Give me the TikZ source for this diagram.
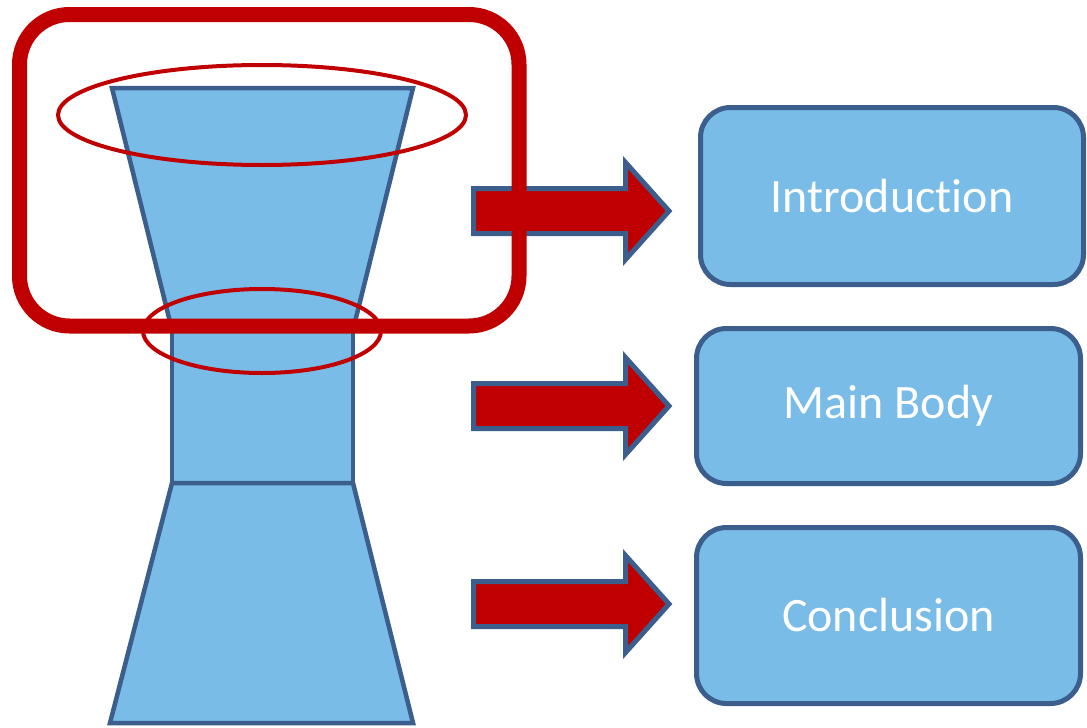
\documentclass[tikz,border=0pt]{standalone}
\usepackage{fontspec}
\setmainfont{Carlito}[Ligatures=NoCommon]
\definecolor{boxfill}{RGB}{121,188,231}
\definecolor{boxline}{RGB}{59,94,140}
\definecolor{redmain}{RGB}{192,0,0}
\begin{document}
\begin{tikzpicture}[x=1pt,y=-1pt,
  funnel/.style={fill=boxfill,draw=boxline,line width=4.5pt,line join=miter},
  ring/.style={draw=redmain,line width=4pt},
  blockarrow/.style={fill=redmain,draw=boxline,line width=5pt,line join=miter},
  stagebox/.style={rectangle,rounded corners=30pt,fill=boxfill,draw=boxline,line width=5pt,
    text=white,font=\fontsize{48}{56}\selectfont,inner sep=0pt}]
\useasboundingbox (0,0) rectangle (1087,728);
% funnel
\draw[funnel] (112,88) -- (413,88) -- (353,330) -- (172,330) -- cycle;
\draw[funnel] (172,330) rectangle (353,483);
\draw[funnel] (172,483) -- (353,483) -- (413,723) -- (110,723) -- cycle;
% rings
\draw[ring] (262,115) ellipse [x radius=204, y radius=50];
\draw[ring] (262,331) ellipse [x radius=119, y radius=42];
% arrows
\foreach \c in {211,406,604}{
  \draw[blockarrow] (473.5,\c-22.5) -- (625.5,\c-22.5) -- (625.5,\c-48.5) -- (669,\c)
    -- (625.5,\c+48.5) -- (625.5,\c+22.5) -- (473.5,\c+22.5) -- cycle;
}
% highlight frame
\draw[draw=redmain,line width=15pt,rounded corners=50pt] (19.5,14.5) rectangle (519,326);
% boxes
\node[stagebox,minimum width=383pt,minimum height=177pt] (intro) at (892,196) {Introduction};
\node[stagebox,minimum width=384pt,minimum height=155pt] (body) at (888.5,406) {Main Body};
\node[stagebox,minimum width=384pt,minimum height=176pt] (concl) at (888.5,615.5) {Conclusion};
\end{tikzpicture}
\end{document}
